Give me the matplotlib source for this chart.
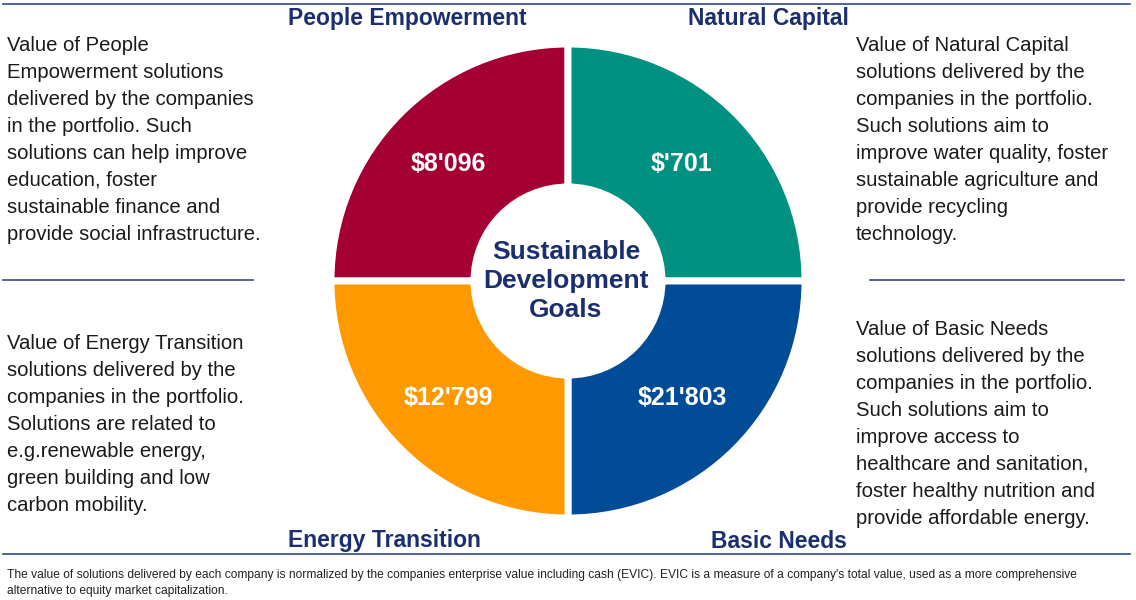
import matplotlib
matplotlib.use('Agg')
import matplotlib.pyplot as plt
import numpy as np

plt.rcParams['font.family'] = ['Liberation Sans', 'DejaVu Sans']

# data
categories = ['People Empowerment', 'Natural Capital', 'Basic Needs', 'Energy Transition']
value_labels = ["$8'096", "$'701", "$21'803", "$12'799"]
shares = [1, 1, 1, 1]  # quadrants are drawn equal in the reference
colors = ['#A50034', '#009180', '#004C97', '#FF9900']
descriptions = [
    "Value of People\nEmpowerment solutions\ndelivered by the companies\nin the portfolio. Such\n"
    "solutions can help improve\neducation, foster\nsustainable finance and\nprovide social infrastructure.",
    "Value of Natural Capital\nsolutions delivered by the\ncompanies in the portfolio.\nSuch solutions aim to\n"
    "improve water quality, foster\nsustainable agriculture and\nprovide recycling\ntechnology.",
    "Value of Basic Needs\nsolutions delivered by the\ncompanies in the portfolio.\nSuch solutions aim to\n"
    "improve access to\nhealthcare and sanitation,\nfoster healthy nutrition and\nprovide affordable energy.",
    "Value of Energy Transition\nsolutions delivered by the\ncompanies in the portfolio.\nSolutions are related to\n"
    "e.g.renewable energy,\ngreen building and low\ncarbon mobility.",
]
center_label = "Sustainable\nDevelopment\nGoals"
footnote = ("The value of solutions delivered by each company is normalized by the companies enterprise value "
            "including cash (EVIC). EVIC is a measure of a company's total value, used as a more comprehensive\n"
            "alternative to equity market capitalization.")

W, H = 1136, 600
navy = '#1B2F6E'
line_col = '#2E4A8A'


def Y(y):
    # convert a top-down pixel position to axes data
    return H - y


fig = plt.figure(figsize=(W / 100, H / 100), dpi=100)
ax = fig.add_axes([0, 0, 1, 1])

cx, cy = 568, Y(281)
r_out, r_in = 237, 94
wedges, _ = ax.pie(shares, colors=colors, startangle=180, counterclock=False,
                   center=(cx, cy), radius=r_out, frame=True,
                   wedgeprops=dict(width=r_out - r_in, edgecolor='white', linewidth=5))
ax.set_xlim(0, W)
ax.set_ylim(0, H)
ax.set_aspect('equal')
ax.axis('off')

r_mid = (r_out + r_in) / 2
for w, lab in zip(wedges, value_labels):
    th = np.deg2rad((w.theta1 + w.theta2) / 2)
    ax.text(cx + r_mid * np.cos(th) - 3, cy + r_mid * np.sin(th), lab, color='white',
            fontsize=18, fontweight='bold', ha='center', va='center')

ax.text(cx - 2, cy, center_label, color=navy, fontsize=19, fontweight='bold',
        ha='center', va='center', linespacing=1.28)

# quadrant titles
title_pos = [(407, 19), (768, 19), (779, 541), (384, 541)]
for (x, y), name in zip(title_pos, categories):
    ax.text(x, Y(y), name, color=navy, fontsize=16.5, fontweight='bold', ha='center', va='center')

# descriptions
desc_pos = [(7, 36), (856, 36), (856, 320), (7, 334)]
for (x, y), txt in zip(desc_pos, descriptions):
    ax.text(x, Y(y), txt, color='#1a1a1a', fontsize=14.6, ha='left', va='top', linespacing=1.53)

# rules
ax.plot([3, 1130], [Y(4), Y(4)], color=line_col, lw=1.2)
ax.plot([3, 1130], [Y(554), Y(554)], color=line_col, lw=1.2)
ax.plot([3, 253], [Y(280), Y(280)], color=line_col, lw=1.2)
ax.plot([870, 1124], [Y(280), Y(280)], color=line_col, lw=1.2)

ax.text(7, Y(569), footnote, color='#222222', fontsize=8.65, ha='left', va='top', linespacing=1.45)

fig.savefig('out.png', dpi=100)
